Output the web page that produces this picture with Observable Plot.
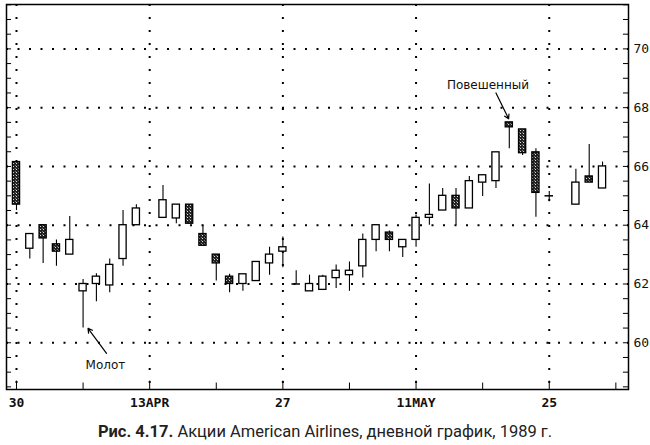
<!DOCTYPE html>
<html>
<head>
<meta charset="utf-8">
<script src="https://cdn.jsdelivr.net/npm/d3@7"></script>
<script src="https://cdn.jsdelivr.net/npm/@observablehq/plot@0.6"></script>
<style>
  html, body { margin: 0; padding: 0; background: #fff; }
  #chart svg { display: block; }
  #caption { width: 650px; text-align: center; font-family: Roboto, "Noto Sans", sans-serif; font-size: 16.5px; color: #222; line-height: 20px; padding-top: 7px; }
  #caption b { font-weight: 700; }
</style>
</head>
<body>
<div id="chart"></div>
<div id="caption"><b>Рис. 4.17.</b> Акции American Airlines, дневной график, 1989 г.</div>
<script>
// Trading-day index (0 = 30 March 1989)
const days  = [0,1,2,3,4,5,6,7,8,9, 11,12,13,14,15,16,17,18,19,20, 21,22,23,24,25,26,27,28,29,30, 31,32,33,34,35,36,37,38,39,40, 42,43,44];
const open  = [66.15,63.2,64.0,63.35,63.0,61.75,62.0,61.95,62.85,64.0, 64.25,64.23,64.7,63.7,63.0,62.25,62.0,62.1,62.7,63.1, 62.0,61.75,61.8,62.2,62.3,62.6,63.5,63.75,63.25,63.5, 64.25,64.5,65.0,64.57,65.45,65.5,67.5,67.26,66.48,65.0, 64.7,65.66,65.25];
const high  = [66.15,63.7,64.0,63.5,64.3,62.15,62.35,62.85,64.5,64.7, 65.35,64.7,64.7,64.0,63.0,62.33,62.33,62.75,63.25,63.6, 62.45,62.3,62.3,62.65,62.75,63.7,64.0,63.8,63.5,64.35, 65.4,65.25,65.25,65.66,65.7,66.48,67.5,67.26,66.6,65.15, 65.9,66.75,66.15];
const low   = [64.5,62.85,62.7,62.6,63.0,60.5,61.4,61.7,62.6,64.0, 64.25,64.05,64.05,63.3,62.1,61.7,61.75,62.1,62.3,62.55, 62.0,61.75,61.8,61.85,61.75,62.2,63.1,63.1,62.9,63.25, 64.0,64.5,64.0,64.57,64.98,65.25,66.6,66.37,64.27,64.8, 64.7,65.45,65.25];
const close = [64.7,63.7,63.55,63.1,63.5,62.0,62.25,62.65,64.0,64.57, 64.85,64.7,64.05,63.3,62.7,62.0,62.33,62.75,63.0,63.25, 62.0,62.0,62.25,62.45,62.45,63.5,64.0,63.5,63.5,64.25, 64.35,65.0,64.57,65.5,65.7,66.48,67.33,66.45,65.1,65.0, 65.45,65.45,66.0];

const xTickPos = [0,10,20,30,40];
const xTickLabels = ["30","13APR","27","11MAY","25"];
const yTickLabels = [60,62,64,66,68,70];

// Annotations: label, text anchor (index, price), arrow from/to (index, price)
const annLabels = ["Молот","Повешенный"];
const annX  = [6.68, 35.4];
const annY  = [59.23, 68.75];
const arrX1 = [6.76, 36.0];
const arrY1 = [59.64, 68.5];
const arrX2 = [5.37, 36.95];
const arrY2 = [60.49, 67.62];

const xDomain = [-0.75, 45.95];
const yDomain = [58.41, 71.51];

const candles = days.map((d,i) => ({d, o: open[i], h: high[i], l: low[i], c: close[i]}));
const anns = annLabels.map((t,i) => ({t, x: annX[i], y: annY[i], x1: arrX1[i], y1: arrY1[i], x2: arrX2[i], y2: arrY2[i]}));

const halfBody = 0.27;
const minorY = d3.range(58.5, 71.51, 0.5);
const minorX = d3.range(0, 46, 5);
const tickLenX = 0.38;   // in x-units, ~5px
const tickLenY = 0.22;   // in price units

const chart = Plot.plot({
  width: 650, height: 415,
  marginLeft: 6, marginRight: 22, marginTop: 4, marginBottom: 26,
  x: {domain: xDomain, label: null},
  y: {domain: yDomain, label: null},
  style: {fontFamily: "'DejaVu Sans Mono', monospace", fontSize: "13px", color: "#111", background: "white"},
  marks: [
    Plot.gridY(yTickLabels, {stroke: "#000", strokeOpacity: 1, strokeWidth: 2, strokeDasharray: "2,9.5"}),
    Plot.gridX(xTickPos, {stroke: "#000", strokeOpacity: 1, strokeWidth: 2, strokeDasharray: "2,11"}),
    // inward ticks on left/right/bottom
    Plot.ruleY(minorY, {x1: xDomain[0], x2: xDomain[0] + tickLenX, stroke: "#000"}),
    Plot.ruleY(minorY, {x1: xDomain[1] - tickLenX, x2: xDomain[1], stroke: "#000"}),
    Plot.ruleX(minorX, {y1: yDomain[0], y2: d => yDomain[0] + (d % 10 === 0 ? tickLenY * 1.3 : tickLenY), stroke: "#000"}),
    // wicks
    Plot.ruleX(candles, {x: "d", y1: "l", y2: "h", stroke: "#000", strokeWidth: 1.1}),
    // bodies
    Plot.rect(candles.filter(d => d.c > d.o), {x1: d => d.d - halfBody, x2: d => d.d + halfBody, y1: "o", y2: "c", fill: "white", stroke: "#000", strokeWidth: 1.3}),
    Plot.rect(candles.filter(d => d.c < d.o), {x1: d => d.d - halfBody, x2: d => d.d + halfBody, y1: "o", y2: "c", fill: "url(#hatch)", stroke: "#000", strokeWidth: 1.3}),
    // doji bodies (open == close)
    Plot.ruleY(candles.filter(d => d.c === d.o), {y: "o", x1: d => d.d - halfBody - 0.05, x2: d => d.d + halfBody + 0.05, stroke: "#000", strokeWidth: 1.5}),
    Plot.frame({stroke: "#000", strokeWidth: 1.5}),
    Plot.axisX(xTickPos, {tickSize: 0, tickPadding: 8, tickFormat: d => xTickLabels[xTickPos.indexOf(d)], label: null, fontSize: 13, fontWeight: "bold"}),
    Plot.axisY(yTickLabels, {anchor: "right", tickSize: 0, tickPadding: 5, label: null, fontSize: 13}),
    // annotations
    Plot.arrow(anns, {x1: "x1", y1: "y1", x2: "x2", y2: "y2", stroke: "#000", strokeWidth: 1.2, headLength: 6}),
    Plot.text(anns, {x: "x", y: "y", text: "t", fontFamily: "'DejaVu Sans', sans-serif", fontSize: 12, fill: "#111"})
  ]
});

// hatch pattern for the dark (falling) bodies
const ns = "http://www.w3.org/2000/svg";
const defs = document.createElementNS(ns, "defs");
defs.innerHTML = '<pattern id="hatch" width="3" height="3" patternUnits="userSpaceOnUse">' +
  '<rect width="3" height="3" fill="#222"/>' +
  '<rect x="1" y="1" width="1" height="1" fill="#ddd"/>' +
  '<rect x="0" y="0" width="1" height="1" fill="#777"/>' +
  '</pattern>';
chart.insertBefore(defs, chart.firstChild);

document.getElementById("chart").appendChild(chart);
</script>
</body>
</html>
